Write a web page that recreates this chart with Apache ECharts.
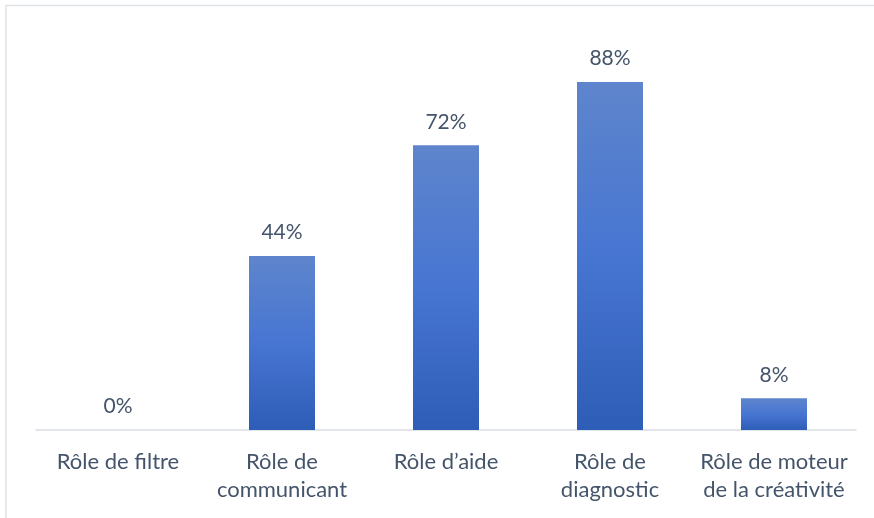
<!DOCTYPE html>
<html>
<head>
<meta charset="utf-8">
<script src="https://cdn.jsdelivr.net/npm/echarts@6/dist/echarts.min.js"></script>
<style>
html,body{margin:0;padding:0;background:#fff;}
#chart{width:874px;height:518px;}
</style>
</head>
<body>
<div id="chart"></div>
<script>
const categories = ["Rôle de filtre", "Rôle de\ncommunicant", "Rôle d’aide", "Rôle de\ndiagnostic", "Rôle de moteur\nde la créativité"];
const values = [0, 44, 72, 88, 8];

const textColor = '#44546a';
const fontFamily = 'Lato, "Open Sans", sans-serif';

const chart = echarts.init(document.getElementById('chart'), null, {renderer: 'canvas'});
chart.setOption({
  animation: false,
  backgroundColor: '#ffffff',
  graphic: [{
    type: 'rect',
    shape: {x: 6, y: 5.5, width: 900, height: 600},
    style: {fill: 'none', stroke: '#dfe3e8', lineWidth: 1.5},
    silent: true
  }],
  grid: {left: 36, right: 18, top: 34.5, bottom: 88, containLabel: false},
  xAxis: {
    type: 'category',
    data: categories,
    axisLine: {show: true, lineStyle: {color: '#d9dde3', width: 1.5}},
    axisTick: {show: false},
    axisLabel: {
      color: textColor,
      fontSize: 22,
      fontFamily: fontFamily,
      lineHeight: 28,
      margin: 18,
      interval: 0
    }
  },
  yAxis: {
    type: 'value',
    min: 0,
    max: 100,
    show: false,
    splitLine: {show: false}
  },
  series: [{
    type: 'bar',
    data: values,
    barWidth: 66,
    itemStyle: {
      color: new echarts.graphic.LinearGradient(0, 0, 0, 1, [
        {offset: 0, color: '#5e85cc'},
        {offset: 0.5, color: '#4775d2'},
        {offset: 1, color: '#2e5db7'}
      ])
    },
    label: {
      show: true,
      position: 'top',
      distance: 13,
      color: textColor,
      fontSize: 21,
      fontFamily: fontFamily,
      formatter: p => p.value + '%'
    }
  }]
});
</script>
</body>
</html>
